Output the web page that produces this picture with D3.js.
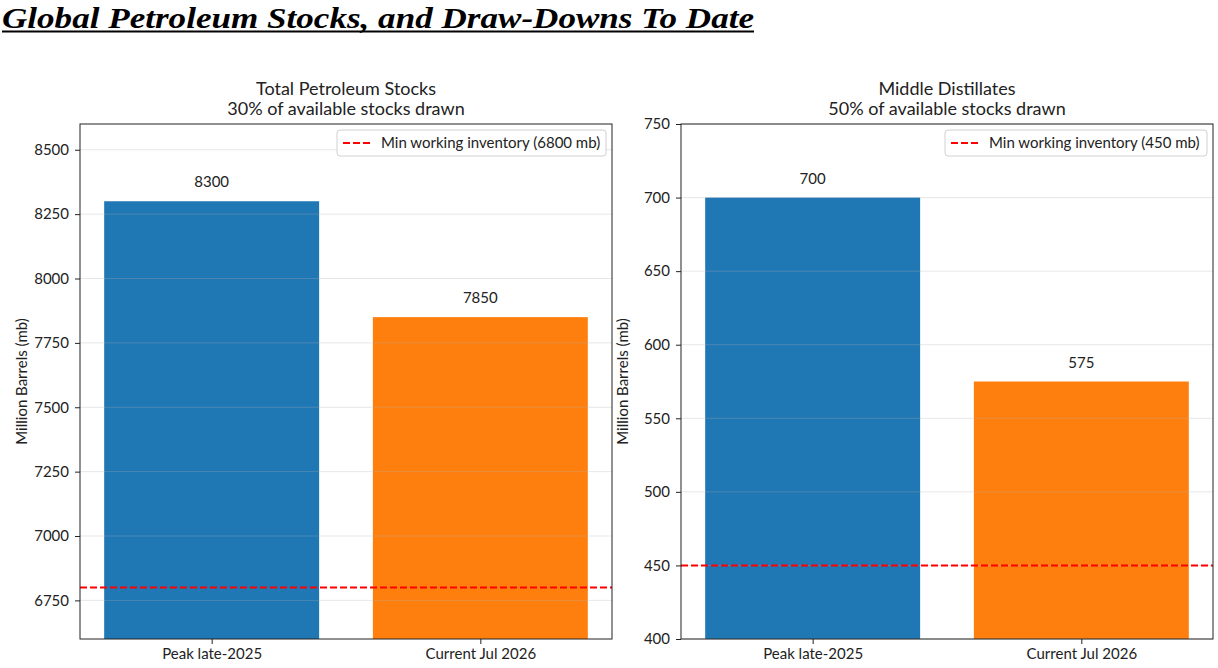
<!DOCTYPE html>
<html><head><meta charset="utf-8">
<script src="https://cdn.jsdelivr.net/npm/d3@7"></script>
<style>
body{margin:0;background:#fff;}
text{font-family:"Lato","Noto Sans",sans-serif;fill:#222;}
</style></head>
<body>
<svg id="c" width="1218" height="668"></svg>
<script>
const categories = ["Peak late-2025", "Current Jul 2026"];
const totalValues = [8300, 7850];
const distValues = [700, 575];
const totalTicks = [6750, 7000, 7250, 7500, 7750, 8000, 8250, 8500];
const distTicks = [400, 450, 500, 550, 600, 650, 700, 750];
const totalMin = 6800;
const distMin = 450;
const barColors = ["#1f77b4", "#ff7f0e"];

const svg = d3.select("#c");

// Main title
svg.append("text")
  .attr("x", 2).attr("y", 28)
  .attr("textLength", 752).attr("lengthAdjust", "spacingAndGlyphs")
  .style("font-family", "'Liberation Serif', 'DejaVu Serif', serif")
  .style("font-weight", "bold").style("font-style", "italic")
  .style("font-size", "30px").style("fill", "#000")
  .text("Global Petroleum Stocks, and Draw-Downs To Date");
svg.append("line").attr("x1", 2).attr("x2", 754).attr("y1", 31.5).attr("y2", 31.5)
  .attr("stroke", "#000").attr("stroke-width", 2);

function panel(opt) {
  const {x0, x1, y0, y1, domain, ticks, values, minVal, title1, title2} = opt;
  const g = svg.append("g");
  const x = d3.scaleLinear().domain([-0.49, 1.49]).range([x0, x1]);
  const y = d3.scaleLinear().domain(domain).range([y1, y0]);
  const bw = x(0.8) - x(0);

  // bars
  g.selectAll("rect.bar").data(values).join("rect")
    .attr("x", (d, i) => x(i) - bw / 2)
    .attr("width", bw)
    .attr("y", d => y(d))
    .attr("height", d => y1 - y(d))
    .attr("fill", (d, i) => barColors[i]);

  // grid
  g.selectAll("line.grid").data(ticks).join("line")
    .attr("x1", x0).attr("x2", x1)
    .attr("y1", d => y(d)).attr("y2", d => y(d))
    .attr("stroke", "#b0b0b0").attr("stroke-opacity", 0.3).attr("stroke-width", 1);

  // min line
  g.append("line").attr("x1", x0).attr("x2", x1)
    .attr("y1", y(minVal)).attr("y2", y(minVal))
    .attr("stroke", "red").attr("stroke-width", 2).attr("stroke-dasharray", "7,3");

  // value labels
  g.selectAll("text.val").data(values).join("text")
    .attr("x", (d, i) => x(i)).attr("y", d => y(d) - 14)
    .attr("text-anchor", "middle").style("font-size", "15px")
    .text(d => d);

  // axes
  const ya = d3.axisLeft(y).tickValues(ticks).tickSize(5).tickPadding(6).tickFormat(d3.format("d"));
  const yg = g.append("g").attr("transform", `translate(${x0},0)`).call(ya);
  const xa = d3.axisBottom(x).tickValues([0, 1]).tickSize(5).tickPadding(4).tickFormat(i => categories[i]);
  const xg = g.append("g").attr("transform", `translate(0,${y1})`).call(xa);
  [yg, xg].forEach(a => {
    a.select(".domain").remove();
    a.selectAll(".tick line").attr("stroke", "#222");
    a.selectAll(".tick text").style("font-size", "15px").style("font-family", "Lato,'Noto Sans',sans-serif").attr("fill", "#222");
  });

  // frame
  g.append("rect").attr("x", x0).attr("y", y0).attr("width", x1 - x0).attr("height", y1 - y0)
    .attr("fill", "none").attr("stroke", "#222").attr("stroke-width", 1);

  // titles
  const cx = (x0 + x1) / 2;
  g.append("text").attr("x", cx).attr("y", 95).attr("text-anchor", "middle").style("font-size", "18px").text(title1);
  g.append("text").attr("x", cx).attr("y", 115).attr("text-anchor", "middle").style("font-size", "18px").text(title2);

  // y label
  g.append("text").attr("transform", `translate(${x0 - 53},${(y0 + y1) / 2}) rotate(-90)`)
    .attr("text-anchor", "middle").style("font-size", "15px").text("Million Barrels (mb)");

  // legend
  const lw = opt.legendW;
  const lx = x1 - 6 - lw, ly = y0 + 6;
  g.append("rect").attr("x", lx).attr("y", ly).attr("width", lw).attr("height", 26)
    .attr("rx", 3).attr("fill", "#fff").attr("fill-opacity", 0.85)
    .attr("stroke", "#d0d0d0").attr("stroke-width", 1);
  g.append("line").attr("x1", lx + 6).attr("x2", lx + 35).attr("y1", ly + 13).attr("y2", ly + 13)
    .attr("stroke", "red").attr("stroke-width", 2).attr("stroke-dasharray", "7,3");
  g.append("text").attr("x", lx + 44).attr("y", ly + 18).style("font-size", "15px")
    .text(`Min working inventory (${minVal} mb)`);
}

panel({x0: 80, x1: 612, y0: 124, y1: 639, domain: [6600, 8600], ticks: totalTicks,
  values: totalValues, minVal: totalMin, title1: "Total Petroleum Stocks",
  title2: "30% of available stocks drawn", legendW: 269});
panel({x0: 681, x1: 1213, y0: 124, y1: 639, domain: [400, 750], ticks: distTicks,
  values: distValues, minVal: distMin, title1: "Middle Distillates",
  title2: "50% of available stocks drawn", legendW: 262});
</script>
</body></html>
